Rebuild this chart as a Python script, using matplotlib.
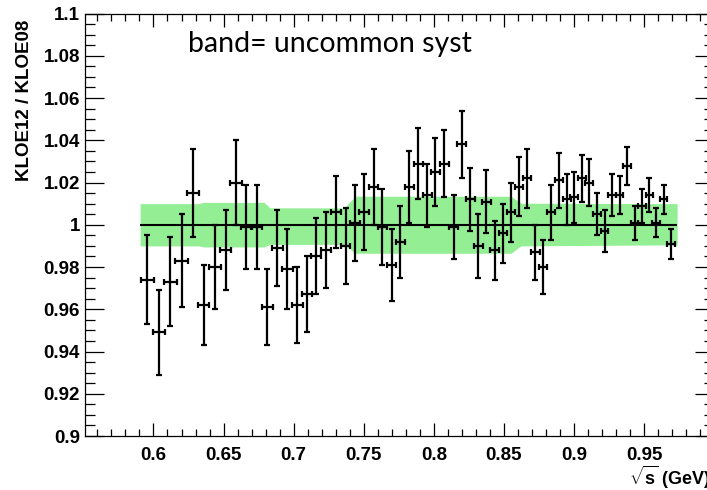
"""
KLOE12 / KLOE08 ratio vs sqrt(s), with uncommon-systematics band
"""
import matplotlib
matplotlib.use("Agg")
import matplotlib.pyplot as plt
from matplotlib.ticker import MultipleLocator, FuncFormatter

plt.rcParams['font.family'] = ['Liberation Sans', 'DejaVu Sans']
plt.rcParams['mathtext.fontset'] = 'custom'
plt.rcParams['mathtext.rm'] = 'Liberation Sans:bold'
plt.rcParams['mathtext.bf'] = 'Liberation Sans:bold'

# Data
sqrt_s = [0.5957, 0.6040, 0.6121, 0.6202, 0.6281, 0.6357, 0.6438, 0.6514, 0.6590, 0.6663,
          0.6737, 0.6811, 0.6884, 0.6954, 0.7027, 0.7098, 0.7160, 0.7232, 0.7301, 0.7370,
          0.7437, 0.7503, 0.7570, 0.7632, 0.7698, 0.7760, 0.7826, 0.7888, 0.7952, 0.8011,
          0.8075, 0.8140, 0.8200, 0.8259, 0.8316, 0.8375, 0.8433, 0.8492, 0.8550, 0.8608,
          0.8665, 0.8724, 0.8777, 0.8834, 0.8891, 0.8948, 0.9000, 0.9055, 0.9109, 0.9162,
          0.9217, 0.9271, 0.9324, 0.9376, 0.9431, 0.9484, 0.9536, 0.9584, 0.9638, 0.9691]
ratio = [0.974, 0.949, 0.973, 0.983, 1.015, 0.962, 0.980, 0.988, 1.020, 0.999,
         0.999, 0.961, 0.989, 0.979, 0.962, 0.967, 0.985, 0.988, 1.006, 0.990,
         1.001, 1.006, 1.018, 0.999, 0.981, 0.992, 1.018, 1.029, 1.014, 1.025,
         1.029, 0.999, 1.038, 1.012, 0.990, 1.011, 0.988, 0.996, 1.006, 1.018,
         1.022, 0.987, 0.980, 1.006, 1.021, 1.012, 1.013, 1.022, 1.020, 1.005,
         0.997, 1.014, 1.014, 1.028, 1.001, 1.009, 1.014, 1.001, 1.012, 0.991]
ratio_err = [0.021, 0.020, 0.021, 0.022, 0.021, 0.019, 0.020, 0.019, 0.020, 0.020,
             0.020, 0.018, 0.018, 0.019, 0.018, 0.018, 0.018, 0.018, 0.017, 0.018,
             0.018, 0.018, 0.018, 0.018, 0.017, 0.017, 0.017, 0.017, 0.015, 0.016,
             0.016, 0.015, 0.016, 0.015, 0.015, 0.015, 0.014, 0.014, 0.014, 0.014,
             0.014, 0.013, 0.013, 0.013, 0.013, 0.012, 0.012, 0.011, 0.011, 0.010,
             0.010, 0.010, 0.009, 0.009, 0.008, 0.008, 0.008, 0.007, 0.007, 0.007]
bin_halfwidth = [0.0045, 0.0045, 0.0045, 0.0045, 0.0045, 0.0042, 0.0042, 0.0042, 0.0042, 0.0040,
                 0.0040, 0.0040, 0.0038, 0.0038, 0.0038, 0.0036, 0.0036, 0.0036, 0.0035, 0.0035,
                 0.0035, 0.0035, 0.0034, 0.0034, 0.0034, 0.0033, 0.0033, 0.0033, 0.0033, 0.0032,
                 0.0032, 0.0032, 0.0032, 0.0031, 0.0031, 0.0031, 0.0031, 0.0030, 0.0030, 0.0030,
                 0.0030, 0.0030, 0.0029, 0.0029, 0.0029, 0.0029, 0.0028, 0.0028, 0.0028, 0.0028,
                 0.0027, 0.0027, 0.0027, 0.0027, 0.0027, 0.0026, 0.0026, 0.0026, 0.0026, 0.0026]

# uncommon systematic band (edges)
band_x = [0.5905, 0.632, 0.636, 0.679, 0.683, 0.736, 0.744, 0.855, 0.862, 0.9735]
band_hi = [1.0100, 1.0100, 1.0106, 1.0106, 1.0080, 1.0080, 1.0135, 1.0135, 1.0102, 1.0100]
band_lo = [0.9900, 0.9900, 0.9895, 0.9895, 0.9907, 0.9907, 0.9865, 0.9865, 0.9900, 0.9905]

fig = plt.figure(figsize=(7.07, 4.90), dpi=100)
ax = fig.add_axes([0.1209, 0.1102, 0.8894, 0.8622])

ax.fill_between(band_x, band_lo, band_hi, color='#94ee94', linewidth=0, zorder=1)
ax.hlines(1.0, band_x[0], band_x[-1], color='black', linewidth=1.5, zorder=2)

ax.errorbar(sqrt_s, ratio, yerr=ratio_err, xerr=bin_halfwidth, fmt='none',
            ecolor='black', elinewidth=1.6, capsize=2.5, capthick=1.6, zorder=3)

ax.set_xlim(0.5515, 1.0)
ax.set_ylim(0.9, 1.1)

# ROOT-like ticks
ax.xaxis.set_major_locator(MultipleLocator(0.05))
ax.xaxis.set_minor_locator(MultipleLocator(0.01))
ax.yaxis.set_major_locator(MultipleLocator(0.02))
ax.yaxis.set_minor_locator(MultipleLocator(0.005))
fmt = FuncFormatter(lambda v, p: '%g' % round(v, 3))
ax.xaxis.set_major_formatter(fmt)
ax.yaxis.set_major_formatter(fmt)

ax.tick_params(axis='both', which='both', direction='in', top=True, right=True,
               width=0.9, colors='black')
ax.tick_params(axis='x', which='major', length=9.5, pad=8)
ax.tick_params(axis='x', which='minor', length=4.7)
ax.tick_params(axis='y', which='major', length=14, pad=4)
ax.tick_params(axis='y', which='minor', length=7)
for lab in ax.get_xticklabels() + ax.get_yticklabels():
    lab.set_fontsize(13.5)
    lab.set_fontweight('bold')
for sp in ax.spines.values():
    sp.set_linewidth(0.9)

fig.text(25 / 707, 1 - 20 / 490, 'KLOE12 / KLOE08', rotation=90, ha='center', va='top',
         fontsize=13.5, fontweight='bold')
ax.text(0.995, -0.097, r'$\sqrt{\mathrm{s}}$ (GeV)', transform=ax.transAxes,
        ha='right', va='center', fontsize=13, fontweight='bold')

fig.text(188 / 707, 1 - 52 / 490, 'band= uncommon syst', family=['Lato', 'DejaVu Sans'],
         fontsize=20.5, ha='left', va='baseline')

plt.savefig('out.png', dpi=100, facecolor='white')
plt.close()
